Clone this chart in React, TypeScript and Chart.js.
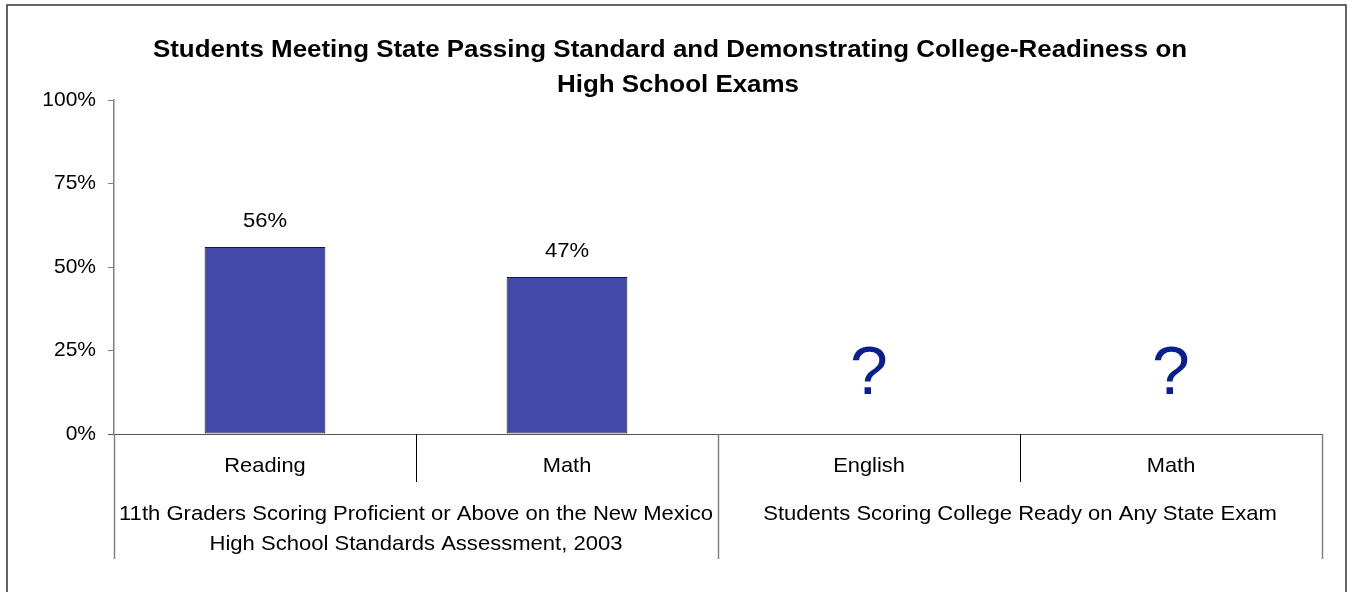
import React, { useEffect, useRef } from "react";
import { Chart, registerables } from "chart.js";

Chart.register(...registerables);

const TITLE_LINES = [
  "Students Meeting State Passing Standard and Demonstrating College-Readiness on",
  "High School Exams",
];
const CATEGORIES = ["Reading", "Math", "English", "Math"];
const GROUP_LABELS = [
  ["11th Graders Scoring Proficient or Above on the New Mexico", "High School Standards Assessment, 2003"],
  ["Students Scoring College Ready on Any State Exam"],
];
const GROUP_SIZES = [2, 2];
const VALUES: (number | null)[] = [56, 47, null, null];
const UNKNOWN_MARK = "?";
const Y_MIN = 0;
const Y_MAX = 100;
const Y_STEP = 25;

const FONT = "Arial, 'Liberation Sans', sans-serif";

function stretchText(ctx: CanvasRenderingContext2D, text: string, x: number, y: number, sx: number) {
  ctx.save();
  ctx.translate(x, y);
  ctx.scale(sx, 1);
  ctx.fillText(text, 0, 0);
  ctx.restore();
}

const overlayPlugin = {
  id: "overlay",
  afterDraw(chart: any) {
    const { ctx, chartArea } = chart;
    const x = chart.scales.x;
    const y = chart.scales.y;
    const y0 = y.getPixelForValue(0);
    const n = CATEGORIES.length;
    const catW = (chartArea.right - chartArea.left) / n;
    ctx.save();

    // frame
    ctx.strokeStyle = "#333";
    ctx.lineWidth = 1.5;
    ctx.strokeRect(7, 5, 1339, 600);

    // title
    ctx.fillStyle = "#000";
    ctx.font = `bold 24px ${FONT}`;
    ctx.textAlign = "center";
    ctx.textBaseline = "alphabetic";
    stretchText(ctx, TITLE_LINES[0], 670, 57, 1.08);
    stretchText(ctx, TITLE_LINES[1], 678, 92, 1.08);

    // x axis line
    ctx.strokeStyle = "#555";
    ctx.lineWidth = 1;
    ctx.beginPath();
    ctx.moveTo(chartArea.left - 6, Math.round(y0) + 0.5);
    ctx.lineTo(chartArea.right, Math.round(y0) + 0.5);
    ctx.stroke();

    // separators
    const groupBoundaries = [0];
    let acc = 0;
    GROUP_SIZES.forEach((s) => {
      acc += s;
      groupBoundaries.push(acc);
    });
    for (let i = 0; i <= n; i++) {
      const bx = Math.round(x.getPixelForValue(i) - catW / 2) + 0.5;
      const long = groupBoundaries.includes(i);
      ctx.strokeStyle = long ? "#808080" : "#000";
      ctx.lineWidth = long ? 1.5 : 1;
      ctx.beginPath();
      ctx.moveTo(bx, y0);
      ctx.lineTo(bx, long ? 559 : 482);
      ctx.stroke();
    }

    // category labels
    ctx.fillStyle = "#000";
    ctx.font = `21px ${FONT}`;
    ctx.textBaseline = "alphabetic";
    CATEGORIES.forEach((c, i) => {
      stretchText(ctx, c, x.getPixelForValue(i), 472, 1.04);
    });

    // group labels
    let start = 0;
    GROUP_SIZES.forEach((s, g) => {
      const cx = (x.getPixelForValue(start) + x.getPixelForValue(start + s - 1)) / 2;
      GROUP_LABELS[g].forEach((line, li) => {
        stretchText(ctx, line, cx, 520 + li * 30, 1.05);
      });
      start += s;
    });

    // data labels and unknown marks
    const meta = chart.getDatasetMeta(0);
    VALUES.forEach((v, i) => {
      const px = x.getPixelForValue(i);
      if (v === null) {
        ctx.fillStyle = "#0a1f8f";
        ctx.font = `68px ${FONT}`;
        ctx.textBaseline = "alphabetic";
        ctx.fillText(UNKNOWN_MARK, px, 394);
      } else {
        const bar = meta.data[i];
        ctx.fillStyle = "#000";
        ctx.font = `21px ${FONT}`;
        ctx.textBaseline = "alphabetic";
        stretchText(ctx, `${v}%`, px, bar.y - 20, 1.05);
      }
    });
    ctx.restore();
  },
};

export default function App() {
  const ref = useRef<HTMLCanvasElement>(null);
  useEffect(() => {
    document.body.style.margin = "0";
    const chart = new Chart(ref.current!, {
      type: "bar",
      data: {
        labels: CATEGORIES,
        datasets: [
          {
            data: VALUES as any,
            backgroundColor: "#4349A8",
            borderColor: "#1a1a1a",
            borderWidth: 1,
            borderSkipped: false,
            barPercentage: 0.4,
            categoryPercentage: 1,
          },
        ],
      },
      options: {
        responsive: false,
        animation: false,
        layout: { padding: { top: 100, right: 31, bottom: 158, left: 0 } },
        plugins: { legend: { display: false }, tooltip: { enabled: false }, title: { display: false } },
        scales: {
          x: { display: false },
          y: {
            min: Y_MIN,
            max: Y_MAX,
            afterFit: (s: any) => {
              s.width = 114;
            },
            border: { display: true, color: "#808080", width: 1.5 },
            grid: { drawOnChartArea: false, drawTicks: true, tickLength: 6, color: "#808080" },
            ticks: {
              stepSize: Y_STEP,
              padding: 12,
              color: "#000",
              font: { family: FONT, size: 21 },
              callback: (v: any) => `${v}%`,
            },
          },
        },
      },
      plugins: [overlayPlugin],
    });
    return () => chart.destroy();
  }, []);
  return (
    <div style={{ width: 1353, height: 592 }}>
      <canvas ref={ref} width={1353} height={592} style={{ display: "block" }} />
    </div>
  );
}
